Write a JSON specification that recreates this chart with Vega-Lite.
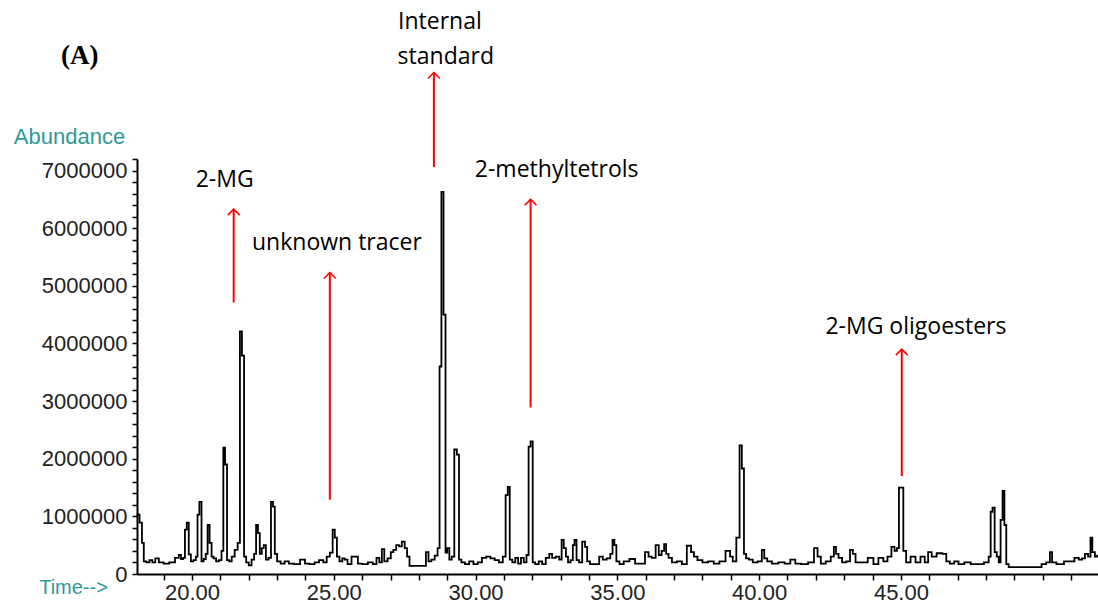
{
  "$schema": "https://vega.github.io/schema/vega-lite/v6.json",
  "width": 961,
  "height": 415,
  "autosize": {"type": "none"},
  "padding": {"left": 137, "top": 159, "right": 0, "bottom": 32},
  "background": "white",
  "config": {"view": {"stroke": null}},
  "datasets": {
    "trace": [
      {"t":18.06,"v":1.05},{"t":18.10,"v":1.03},{"t":18.20,"v":0.89},{"t":18.27,"v":0.54},{"t":18.33,"v":0.22},{"t":18.45,"v":0.20},{"t":18.55,"v":0.24},{"t":18.65,"v":0.20},{"t":18.76,"v":0.27},{"t":18.90,"v":0.20},{"t":19.10,"v":0.18},{"t":19.30,"v":0.20},{"t":19.50,"v":0.28},{"t":19.57,"v":0.33},{"t":19.65,"v":0.26},{"t":19.72,"v":0.28},{"t":19.78,"v":0.77},{"t":19.85,"v":0.89},{"t":19.92,"v":0.34},{"t":20.00,"v":0.22},{"t":20.10,"v":0.24},{"t":20.17,"v":0.30},{"t":20.22,"v":1.03},{"t":20.30,"v":1.25},{"t":20.37,"v":0.22},{"t":20.45,"v":0.26},{"t":20.52,"v":0.35},{"t":20.58,"v":0.85},{"t":20.66,"v":0.54},{"t":20.72,"v":0.30},{"t":20.80,"v":0.27},{"t":20.90,"v":0.22},{"t":21.00,"v":0.24},{"t":21.08,"v":0.40},{"t":21.13,"v":2.19},{"t":21.20,"v":1.90},{"t":21.27,"v":0.24},{"t":21.35,"v":0.22},{"t":21.45,"v":0.30},{"t":21.56,"v":0.42},{"t":21.66,"v":0.54},{"t":21.72,"v":4.21},{"t":21.80,"v":3.79},{"t":21.87,"v":0.30},{"t":21.95,"v":0.20},{"t":22.05,"v":0.15},{"t":22.15,"v":0.25},{"t":22.23,"v":0.35},{"t":22.29,"v":0.85},{"t":22.36,"v":0.71},{"t":22.42,"v":0.35},{"t":22.50,"v":0.45},{"t":22.56,"v":0.50},{"t":22.65,"v":0.25},{"t":22.75,"v":0.28},{"t":22.82,"v":1.25},{"t":22.89,"v":1.17},{"t":22.95,"v":0.35},{"t":23.05,"v":0.22},{"t":23.20,"v":0.18},{"t":23.33,"v":0.22},{"t":23.50,"v":0.18},{"t":23.70,"v":0.17},{"t":23.92,"v":0.25},{"t":24.05,"v":0.18},{"t":24.25,"v":0.17},{"t":24.40,"v":0.20},{"t":24.56,"v":0.24},{"t":24.70,"v":0.20},{"t":24.80,"v":0.30},{"t":24.92,"v":0.37},{"t":25.00,"v":0.77},{"t":25.07,"v":0.63},{"t":25.15,"v":0.30},{"t":25.25,"v":0.22},{"t":25.35,"v":0.27},
      {"t":25.42,"v":0.25},{"t":25.55,"v":0.17},{"t":25.70,"v":0.30},{"t":25.80,"v":0.30},{"t":25.90,"v":0.18},{"t":26.10,"v":0.17},{"t":26.30,"v":0.20},{"t":26.45,"v":0.17},{"t":26.56,"v":0.28},{"t":26.65,"v":0.20},{"t":26.74,"v":0.43},{"t":26.82,"v":0.22},{"t":26.97,"v":0.27},{"t":27.05,"v":0.38},{"t":27.15,"v":0.42},{"t":27.25,"v":0.50},{"t":27.35,"v":0.48},{"t":27.45,"v":0.56},{"t":27.55,"v":0.45},{"t":27.62,"v":0.30},{"t":27.72,"v":0.14},{"t":28.20,"v":0.14},{"t":28.30,"v":0.38},{"t":28.38,"v":0.22},{"t":28.50,"v":0.25},{"t":28.62,"v":0.32},{"t":28.70,"v":0.45},{"t":28.76,"v":3.60},{"t":28.83,"v":6.63},{"t":28.91,"v":4.50},{"t":28.97,"v":0.37},{"t":29.03,"v":0.45},{"t":29.12,"v":0.25},{"t":29.20,"v":0.30},{"t":29.30,"v":2.16},{"t":29.38,"v":2.07},{"t":29.45,"v":0.25},{"t":29.55,"v":0.20},{"t":29.70,"v":0.17},{"t":29.85,"v":0.22},{"t":30.00,"v":0.17},{"t":30.15,"v":0.20},{"t":30.30,"v":0.28},{"t":30.45,"v":0.30},{"t":30.60,"v":0.27},{"t":30.75,"v":0.24},{"t":30.90,"v":0.20},{"t":31.02,"v":0.30},{"t":31.10,"v":1.37},{"t":31.17,"v":1.51},{"t":31.24,"v":0.25},{"t":31.35,"v":0.20},{"t":31.45,"v":0.28},{"t":31.55,"v":0.18},{"t":31.65,"v":0.28},{"t":31.75,"v":0.20},{"t":31.84,"v":0.33},{"t":31.90,"v":2.21},{"t":31.98,"v":2.30},{"t":32.05,"v":0.20},{"t":32.15,"v":0.17},{"t":32.30,"v":0.22},
      {"t":32.40,"v":0.17},{"t":32.55,"v":0.28},{"t":32.65,"v":0.35},{"t":32.75,"v":0.28},{"t":32.90,"v":0.30},{"t":33.00,"v":0.25},{"t":33.07,"v":0.59},{"t":33.15,"v":0.45},{"t":33.22,"v":0.30},{"t":33.30,"v":0.20},{"t":33.40,"v":0.24},{"t":33.46,"v":0.50},{"t":33.52,"v":0.59},{"t":33.60,"v":0.24},{"t":33.70,"v":0.20},{"t":33.82,"v":0.56},{"t":33.90,"v":0.47},{"t":33.97,"v":0.22},{"t":34.10,"v":0.17},{"t":34.30,"v":0.17},{"t":34.42,"v":0.30},{"t":34.55,"v":0.25},{"t":34.70,"v":0.27},{"t":34.80,"v":0.35},{"t":34.86,"v":0.59},{"t":34.93,"v":0.50},{"t":35.00,"v":0.22},{"t":35.15,"v":0.17},{"t":35.30,"v":0.22},{"t":35.55,"v":0.26},{"t":35.70,"v":0.18},{"t":35.90,"v":0.18},{"t":36.05,"v":0.38},{"t":36.15,"v":0.30},{"t":36.28,"v":0.28},{"t":36.42,"v":0.50},{"t":36.50,"v":0.33},{"t":36.62,"v":0.40},{"t":36.68,"v":0.52},{"t":36.76,"v":0.35},{"t":36.85,"v":0.28},{"t":37.00,"v":0.20},{"t":37.20,"v":0.22},{"t":37.35,"v":0.17},{"t":37.55,"v":0.49},{"t":37.65,"v":0.38},{"t":37.75,"v":0.30},{"t":37.90,"v":0.24},{"t":38.10,"v":0.20},{"t":38.30,"v":0.22},{"t":38.50,"v":0.18},{"t":38.70,"v":0.22},{"t":38.93,"v":0.40},{"t":39.02,"v":0.30},{"t":39.12,"v":0.22},{"t":39.27,"v":0.63},{"t":39.35,"v":2.23},{"t":39.43,"v":1.83},{"t":39.50,"v":0.35},{"t":39.58,"v":0.27},{"t":39.70,"v":0.25},
      {"t":39.85,"v":0.20},{"t":40.05,"v":0.22},{"t":40.14,"v":0.42},{"t":40.22,"v":0.27},{"t":40.35,"v":0.22},{"t":40.55,"v":0.18},{"t":40.80,"v":0.20},{"t":41.00,"v":0.18},{"t":41.20,"v":0.25},{"t":41.35,"v":0.18},{"t":41.60,"v":0.17},{"t":41.85,"v":0.20},{"t":42.02,"v":0.45},{"t":42.10,"v":0.30},{"t":42.25,"v":0.18},{"t":42.45,"v":0.22},{"t":42.60,"v":0.30},{"t":42.67,"v":0.47},{"t":42.75,"v":0.35},{"t":42.85,"v":0.28},{"t":43.00,"v":0.20},{"t":43.15,"v":0.22},{"t":43.26,"v":0.42},{"t":43.35,"v":0.35},{"t":43.45,"v":0.20},{"t":43.70,"v":0.20},{"t":43.96,"v":0.28},{"t":44.10,"v":0.17},{"t":44.31,"v":0.28},{"t":44.45,"v":0.22},{"t":44.60,"v":0.30},{"t":44.73,"v":0.47},{"t":44.82,"v":0.40},{"t":44.90,"v":0.45},{"t":44.96,"v":1.50},{"t":45.05,"v":1.50},{"t":45.12,"v":0.40},{"t":45.25,"v":0.20},{"t":45.43,"v":0.30},{"t":45.60,"v":0.20},{"t":45.78,"v":0.30},{"t":45.90,"v":0.20},{"t":46.02,"v":0.38},{"t":46.15,"v":0.30},{"t":46.37,"v":0.36},{"t":46.55,"v":0.35},{"t":46.65,"v":0.22},{"t":46.80,"v":0.18},
      {"t":46.96,"v":0.22},{"t":47.10,"v":0.17},{"t":47.37,"v":0.20},{"t":47.55,"v":0.17},{"t":47.80,"v":0.17},{"t":48.05,"v":0.20},{"t":48.14,"v":0.30},{"t":48.19,"v":1.08},{"t":48.27,"v":1.15},{"t":48.34,"v":0.38},{"t":48.42,"v":0.30},{"t":48.48,"v":0.20},{"t":48.55,"v":0.94},{"t":48.62,"v":1.44},{"t":48.68,"v":0.85},{"t":48.75,"v":0.17},{"t":48.85,"v":0.12},{"t":49.90,"v":0.12},{"t":50.02,"v":0.17},{"t":50.22,"v":0.20},{"t":50.29,"v":0.38},{"t":50.37,"v":0.20},{"t":50.60,"v":0.17},{"t":50.90,"v":0.22},{"t":51.05,"v":0.22},{"t":51.19,"v":0.28},{"t":51.35,"v":0.25},{"t":51.43,"v":0.27},{"t":51.55,"v":0.35},{"t":51.65,"v":0.30},{"t":51.72,"v":0.63},{"t":51.78,"v":0.38},{"t":51.90,"v":0.30},{"t":51.95,"v":0.32}
    ],
    "arrows": [
      {"t":21.47,"v0":4.71,"v1":6.33},
      {"t":24.86,"v0":1.29,"v1":5.23},
      {"t":28.53,"v0":7.06,"v1":8.70},
      {"t":31.94,"v0":2.89,"v1":6.50},
      {"t":45.03,"v0":1.70,"v1":3.90}
    ],
    "notes": [
      {"label":"2-MG","t":21.15,"v":6.83},
      {"label":"unknown tracer","t":25.11,"v":5.74},
      {"label":"Internal","t":28.74,"v":9.58},
      {"label":"standard","t":28.95,"v":8.97},
      {"label":"2-methyltetrols","t":32.86,"v":7.01},
      {"label":"2-MG oligoesters","t":45.53,"v":4.28}
    ],
    "panel": [
      {"label":"(A)","t":16.04,"v":8.99}
    ]
  },
  "encoding": {
    "x": {
      "field": "t", "type": "quantitative",
      "scale": {"domain": [18.06, 51.95], "nice": false, "zero": false},
      "axis": {
        "title": "Time-->",
        "titleColor": "#2f9a9a", "titleFont": "Liberation Sans", "titleFontWeight": "normal", "titleFontSize": 20,
        "titleX": -64, "titleY": 13, "titleAlign": "center", "titleBaseline": "middle", "titleAngle": 0,
        "values": [19,20,21,22,23,24,25,26,27,28,29,30,31,32,33,34,35,36,37,38,39,40,41,42,43,44,45,46,47,48,49,50,51],
        "labelExpr": "datum.value % 5 === 0 && datum.value < 50 ? format(datum.value, '.2f') : ''",
        "labelFont": "Liberation Sans", "labelFontSize": 22, "labelColor": "#222",
        "labelOverlap": false, "labelFlush": false, "labelPadding": 2,
        "ticks": true, "tickSize": 6, "tickColor": "black", "tickWidth": 1.5,
        "domainColor": "black", "domainWidth": 2, "grid": false
      }
    },
    "y": {
      "field": "y", "type": "quantitative",
      "scale": {"domain": [0, 7200000], "nice": false, "zero": true},
      "axis": {
        "title": "Abundance",
        "titleColor": "#2f9a9a", "titleFont": "Liberation Sans", "titleFontWeight": "normal", "titleFontSize": 22,
        "titleX": -68, "titleY": -23, "titleAlign": "center", "titleBaseline": "middle", "titleAngle": 0,
        "values": [0,200000,400000,600000,800000,1000000,1200000,1400000,1600000,1800000,2000000,2200000,2400000,2600000,2800000,3000000,3200000,3400000,3600000,3800000,4000000,4200000,4400000,4600000,4800000,5000000,5200000,5400000,5600000,5800000,6000000,6200000,6400000,6600000,6800000,7000000,7200000],
        "labelExpr": "datum.value % 1000000 === 0 ? format(datum.value, 'd') : ''",
        "labelFont": "Liberation Sans", "labelFontSize": 22, "labelColor": "#222",
        "labelOverlap": false, "labelFlush": false, "labelPadding": 5,
        "ticks": true, "tickSize": 5, "tickColor": "black", "tickWidth": 1.5,
        "domainColor": "black", "domainWidth": 2, "grid": false
      }
    }
  },
  "layer": [
    {
      "data": {"name": "trace"},
      "transform": [{"calculate": "datum.v * 1000000", "as": "y"}],
      "mark": {"type": "line", "interpolate": "step", "color": "black", "strokeWidth": 1.8}
    },
    {
      "data": {"name": "arrows"},
      "transform": [{"calculate": "datum.v0 * 1000000", "as": "y"}, {"calculate": "datum.v1 * 1000000", "as": "y1"}],
      "mark": {"type": "rule", "color": "#ff0000", "strokeWidth": 2},
      "encoding": {
        "y2": {"field": "y1"}
      }
    },
    {
      "data": {"name": "arrows"},
      "transform": [{"calculate": "datum.v1 * 1000000", "as": "y"}],
      "mark": {"type": "point", "shape": "M -1 1 L 0 0 L 1 1", "filled": false, "color": "#ff0000", "strokeWidth": 1.6, "size": 140, "opacity": 1}
    },
    {
      "data": {"name": "notes"},
      "transform": [{"calculate": "datum.v * 1000000", "as": "y"}],
      "mark": {"type": "text", "font": "Open Sans", "fontSize": 23, "color": "black", "align": "center", "baseline": "middle"},
      "encoding": {
        "text": {"field": "label"}
      }
    },
    {
      "data": {"name": "panel"},
      "transform": [{"calculate": "datum.v * 1000000", "as": "y"}],
      "mark": {"type": "text", "font": "Liberation Serif", "fontSize": 27, "fontWeight": "bold", "color": "black", "align": "center", "baseline": "middle"},
      "encoding": {
        "text": {"field": "label"}
      }
    }
  ]
}
